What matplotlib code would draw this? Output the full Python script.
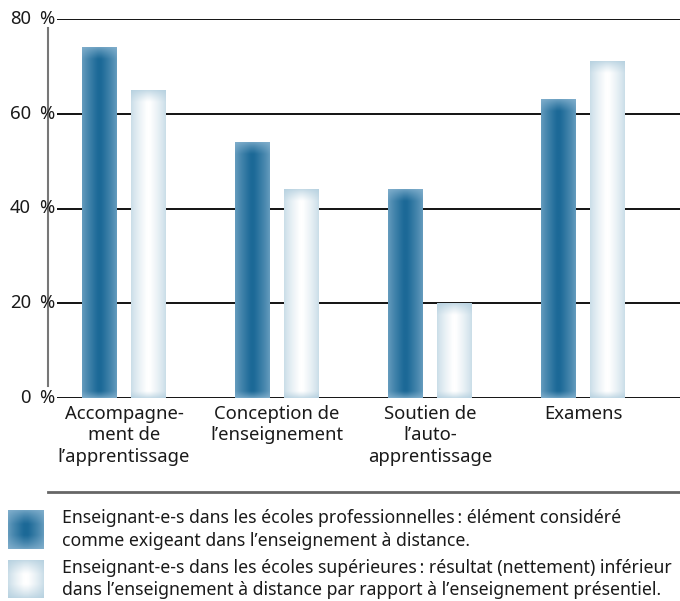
import numpy as np
import matplotlib
matplotlib.use("Agg")
import matplotlib.pyplot as plt
from matplotlib.lines import Line2D
from matplotlib.colors import to_rgb

plt.rcParams['font.family'] = ['Noto Sans', 'DejaVu Sans']

categories = ["Accompagne-\nment de\nl\u2019apprentissage",
              "Conception de\nl\u2019enseignement",
              "Soutien de\nl\u2019auto-\napprentissage",
              "Examens"]
prof_values = [74, 54, 44, 63]
sup_values = [65, 44, 20, 71]
yticks = [0, 20, 40, 60, 80]
legend_labels = [
    "Enseignant-e-s dans les écoles professionnelles\u2009: élément considéré\ncomme exigeant dans l\u2019enseignement à distance.",
    "Enseignant-e-s dans les écoles supérieures\u2009: résultat (nettement) inférieur\ndans l\u2019enseignement à distance par rapport à l\u2019enseignement présentiel.",
]

TXT = '#1a1a1a'
FS = 13.3
FS_LEG = 12.7

W, H = 680, 601
fig = plt.figure(figsize=(W / 100, H / 100), dpi=100)
ax_l, ax_r, ax_b, ax_t = 57 / W, 1.0, (H - 398) / H, (H - 19) / H
ax = fig.add_axes([ax_l, ax_b, ax_r - ax_l, ax_t - ax_b])
xmin = -67 / 153
xmax = xmin + 623 / 153
px_per_unit_y = 379 / 80
px_per_unit_x = 153

dark_edge, dark_center = np.array(to_rgb("#8ab5d1")), np.array(to_rgb("#1c6997"))
light_edge, light_center = np.array(to_rgb("#b0cddd")), np.array(to_rgb("#ffffff"))


def prof(t, p=0.8):
    return np.clip(t, 0, 1) ** p


def grad_image(wpx, hpx, edge, center, fx=16.0, fy_top=12.0, fy_bot=7.0):
    nx, ny = max(int(round(wpx)) * 2, 2), max(int(round(hpx)) * 2, 2)
    xs = (np.arange(nx) + 0.5) / 2
    ys = (np.arange(ny) + 0.5) / 2
    wp, hp = nx / 2, ny / 2
    dx = np.minimum(xs, wp - xs)
    fyv = 0.2 + 0.8 * np.minimum(prof(ys / fy_bot), prof((hp - ys) / fy_top))
    fxv = 0.3 + 0.7 * prof(dx / fx)
    f = np.clip(fyv[:, None] * fxv[None, :], 0, 1)
    img = edge[None, None, :] + (center - edge)[None, None, :] * f[:, :, None]
    return img


bw = 35 / 153
off = 24.5 / 153
for i, (a, b) in enumerate(zip(prof_values, sup_values)):
    for val, xc, (e, c) in [(a, i - off, (dark_edge, dark_center)),
                             (b, i + off, (light_edge, light_center))]:
        img = grad_image(bw * px_per_unit_x, val * px_per_unit_y, e, c)
        ax.imshow(img, extent=(xc - bw / 2, xc + bw / 2, 0, val), aspect='auto',
                  interpolation='bilinear', zorder=3, origin='lower')

for v in yticks:
    ax.axhline(v, color='black', lw=1.3, zorder=2)
ax.set_xlim(xmin, xmax)
ax.set_ylim(0, 80)

for s in ax.spines.values():
    s.set_visible(False)
ax.set_yticks([])
ax.set_xticks(range(len(categories)))
ax.set_xticklabels(categories, fontsize=FS, linespacing=1.25, color=TXT)
ax.tick_params(axis='x', length=0, pad=5)

# y labels
for v in yticks:
    yf = ax_b + (v / 80) * (ax_t - ax_b)
    fig.text(31 / W, yf, str(v), ha='right', va='center', fontsize=FS, color=TXT)
    fig.text(47 / W, yf, "%", ha='center', va='center', fontsize=FS, color=TXT)

# y axis gray line
fig.add_artist(Line2D([48 / W, 48 / W], [(H - 28) / H, (H - 386) / H],
                      color='#777777', lw=1.5))
# separator
fig.add_artist(Line2D([48 / W, 1.0], [(H - 492) / H, (H - 492) / H],
                      color='#666666', lw=2))

# legend swatches
for (y0, y1), (e, c), lab in [((510, 549), (dark_edge, dark_center), legend_labels[0]),
                              ((560, 598), (light_edge, light_center), legend_labels[1])]:
    sax = fig.add_axes([8 / W, (H - y1) / H, 36 / W, (y1 - y0) / H])
    img = grad_image(36, y1 - y0, e, c, fx=16, fy_top=14, fy_bot=14)
    sax.imshow(img, aspect='auto', interpolation='bilinear')
    sax.axis('off')
    fig.text(62 / W, (H - (y0 + y1) / 2) / H, lab, ha='left', va='center',
             fontsize=FS_LEG, linespacing=1.3, color=TXT)

fig.savefig("out.png", dpi=100)
